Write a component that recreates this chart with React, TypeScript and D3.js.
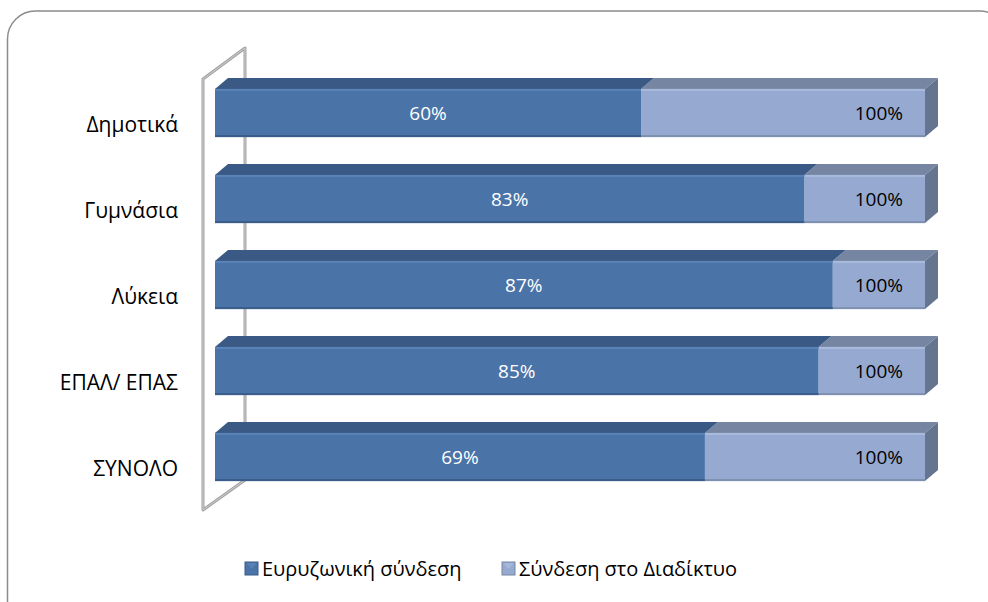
import React from "react";
import * as d3 from "d3";

const categories = ["Δημοτικά", "Γυμνάσια", "Λύκεια", "ΕΠΑΛ/ ΕΠΑΣ", "ΣΥΝΟΛΟ"];
const broadband = [60, 83, 87, 85, 69];
const internet = [100, 100, 100, 100, 100];
const seriesNames = ["Ευρυζωνική σύνδεση", "Σύνδεση στο Διαδίκτυο"];

const W = 988;
const H = 602;
const FONT = "'Open Sans', 'DejaVu Sans', sans-serif";

// depth of the 3d bars
const DX = 13;
const DY = -11;

const dark = { front: "#4a73a8", top: "#3a5a85", hi: "#5a83b6", edge: "#3a5d8a" };
const light = { front: "#96aad1", top: "#7686a2", side: "#66758f", hi: "#a9bbdc", edge: "#7f8fb0" };

export default function App() {
  const x = d3.scaleLinear().domain([0, 100]).range([215, 925]);
  const y = d3
    .scaleBand<string>()
    .domain(categories)
    .range([70, 500])
    .paddingInner(0.44)
    .paddingOuter(0.22);
  const h = y.bandwidth();

  const topFace = (x0: number, x1: number, yy: number) =>
    `M${x0},${yy} L${x0 + DX},${yy + DY} L${x1 + DX},${yy + DY} L${x1},${yy} Z`;
  const sideFace = (x1: number, yy: number) =>
    `M${x1},${yy} L${x1 + DX},${yy + DY} L${x1 + DX},${yy + h + DY} L${x1},${yy + h} Z`;

  return (
    <svg
      width={W}
      height={H}
      style={{ position: "absolute", left: 0, top: 0, background: "#fff" }}
    >
      <rect x={7.5} y={11} width={1000} height={620} rx={28} fill="#fff" stroke="#8c8c8c" strokeWidth={1.5} />

      {/* left wall */}
      <path
        d="M203,79 L245,48 L245,480 L203,510 Z"
        fill="none"
        stroke="#a4a4a4"
        strokeWidth={3}
        strokeLinejoin="round"
      />
      <path d="M203,79 L245,48 L245,480 L203,510 Z" fill="none" stroke="#d6d6d6" strokeWidth={0.8} />

      {categories.map((c, i) => {
        const yy = y(c)!;
        const xb = x(broadband[i]);
        const x0 = x(0);
        const xe = x(internet[i]);
        return (
          <g key={c}>
            {/* light segment: remainder up to internet connection */}
            <path d={topFace(xb, xe, yy)} fill={light.top} />
            <path d={sideFace(xe, yy)} fill={light.side} />
            <rect x={xb} y={yy} width={xe - xb} height={h} fill={light.front} />
            <rect x={xb} y={yy} width={xe - xb} height={2} fill={light.hi} />
            <rect x={xb} y={yy + h - 2} width={xe - xb} height={2} fill={light.edge} />
            {/* dark segment: broadband */}
            <path d={topFace(x0, xb, yy)} fill={dark.top} />
            <rect x={x0} y={yy} width={xb - x0} height={h} fill={dark.front} />
            <rect x={x0} y={yy} width={xb - x0} height={2} fill={dark.hi} />
            <rect x={x0} y={yy + h - 2} width={xb - x0} height={2} fill={dark.edge} />

            <text
              x={(x0 + xb) / 2}
              y={yy + h / 2}
              dy="0.35em"
              textAnchor="middle"
              fill="#fff"
              fontFamily={FONT}
              fontSize={19}
            >
              {broadband[i]}%
            </text>
            <text
              x={xe - 22}
              y={yy + h / 2}
              dy="0.35em"
              textAnchor="end"
              fill="#000"
              fontFamily={FONT}
              fontSize={19}
            >
              {internet[i]}%
            </text>
            <text
              x={178}
              y={yy + h / 2 + 12}
              dy="0.35em"
              textAnchor="end"
              fill="#000"
              fontFamily={FONT}
              fontSize={21}
            >
              {c}
            </text>
          </g>
        );
      })}

      {/* legend */}
      {seriesNames.map((s, i) => {
        const lx = i === 0 ? 245 : 502;
        const col = i === 0 ? dark : light;
        return (
          <g key={s}>
            <rect x={lx} y={562} width={13} height={13} fill={col.front} stroke={col.top} strokeWidth={1} />
            <path d={`M${lx + 1},${563} L${lx + 12},${563} L${lx + 6.5},${569} Z`} fill={col.hi} opacity={0.8} />
            <text x={lx + 17} y={569} dy="0.35em" fontFamily={FONT} fontSize={20} fill="#000">
              {s}
            </text>
          </g>
        );
      })}
    </svg>
  );
}
